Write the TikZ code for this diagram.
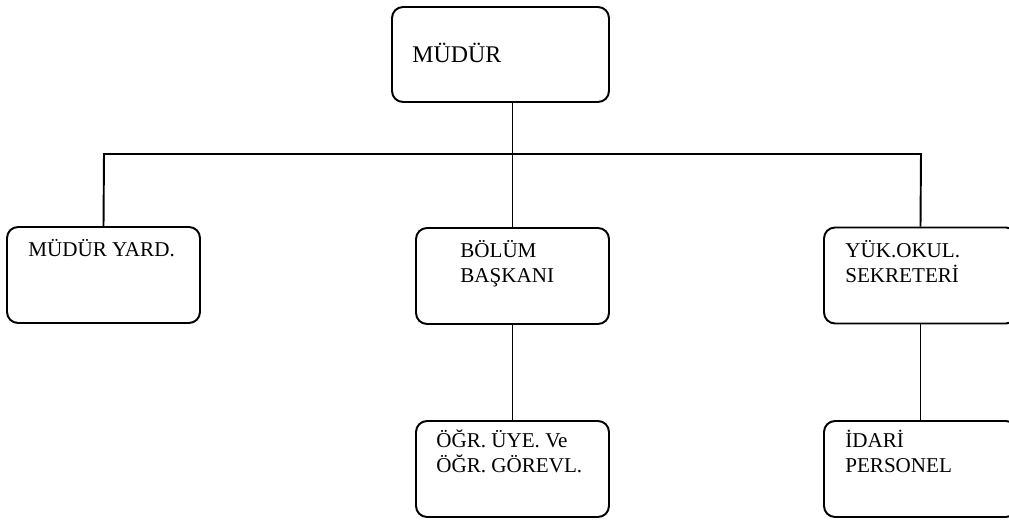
\documentclass[tikz,border=0pt]{standalone}
\usepackage{fontspec}
\setmainfont{Liberation Serif}
\usepackage{tikz}

\begin{document}
\begin{tikzpicture}[x=0.02cm, y=-0.02cm,
  unitbox/.style={draw=black, line width=1.1pt, rounded corners=0.22cm, minimum width=3.86cm, minimum height=1.92cm, inner sep=0pt},
  unittext/.style={anchor=base west, inner sep=0pt, align=left, font=\fontsize{12}{14.7}\selectfont},
  link/.style={draw=black, line width=1.1pt}]
\useasboundingbox (0,0) rectangle (1009,520);
% boxes
\node[unitbox, minimum width=4.34cm, minimum height=1.9cm] (mudur) at (500.5,54.5) {};
\node[unitbox] (yard) at (103.5,275) {};
\node[unitbox] (bolum) at (512.5,276) {};
\node[unitbox] (sekreter) at (920.5,275.5) {};
\node[unitbox] (ogr) at (512.5,469) {};
\node[unitbox] (idari) at (920.5,469) {};
% texts (two-line nodes sit on their last baseline)
\node[unittext, font=\fontsize{13.6}{16}\selectfont] (tMudur) at (412,63) {MÜDÜR};
\node[unittext] (tYard) at (28,257) {MÜDÜR YARD.};
\node[unittext] (tBolum) at (460,283) {BÖLÜM\\BAŞKANI};
\node[unittext] (tSekreter) at (845,283) {YÜK.OKUL.\\SEKRETERİ};
\node[unittext] (tOgr) at (436,473) {ÖĞR. ÜYE. Ve\\ÖĞR. GÖREVL.};
\node[unittext] (tIdari) at (845,473) {İDARİ\\PERSONEL};
% connectors
\coordinate (busL) at (104,154);
\coordinate (busR) at (921,154);
\draw[link] (bolum.north |- mudur.south) -- (bolum.north);
\draw[link] (yard.north) -- (busL) -- (busR) -- (sekreter.north);
\draw[link] (bolum.south) -- (ogr.north);
\draw[link] (sekreter.south) -- (idari.north);
\end{tikzpicture}
\end{document}
